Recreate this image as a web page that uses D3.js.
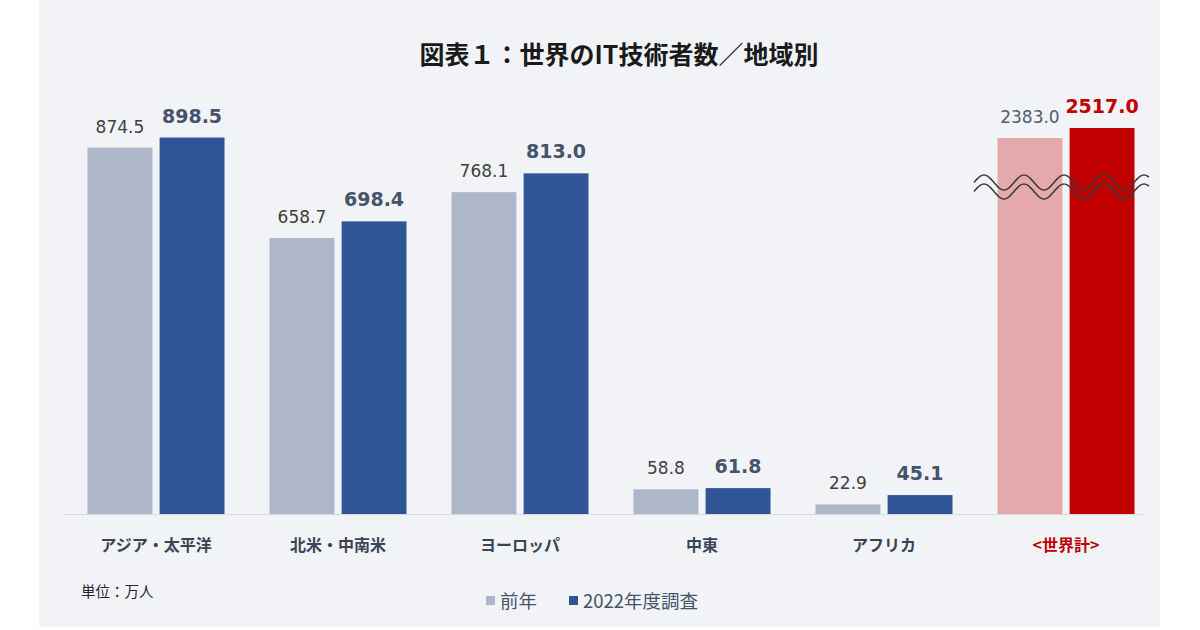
<!DOCTYPE html>
<html>
<head>
<meta charset="utf-8">
<script src="https://cdn.jsdelivr.net/npm/d3@7"></script>
<style>
  body { margin: 0; background: #fff; }
  svg { display: block; }
</style>
</head>
<body>
<svg id="chart"></svg>
<script>
// data
const categories = ['アジア・太平洋', '北米・中南米', 'ヨーロッパ', '中東', 'アフリカ', '<世界計>'];
const prevValues = [874.5, 658.7, 768.1, 58.8, 22.9, 2383.0];
const currValues = [898.5, 698.4, 813.0, 61.8, 45.1, 2517.0];
const seriesNames = ['前年', '2022年度調査'];

const width = 1200;
const height = 630;
const baseY = 514;
const fontNum = '"DejaVu Sans", "Noto Sans CJK JP", sans-serif';
const fontJp = '"Noto Sans CJK JP", sans-serif';

const colors = {
  prev: '#adb7c9', curr: '#2f5597',
  worldPrev: '#e3a9ab', worldCurr: '#c00000'
};

const svg = d3.select('#chart')
  .attr('width', width)
  .attr('height', height);

// panel
svg.append('rect')
  .attr('x', 39).attr('y', 0)
  .attr('width', 1121).attr('height', 627)
  .attr('fill', '#f1f3f7');

const data = categories.map((c, i) => ({
  cat: c, prev: prevValues[i], curr: currValues[i], world: i === categories.length - 1
}));

const x0 = d3.scaleBand()
  .domain(categories)
  .range([65, 1157]);

const x1 = d3.scaleBand()
  .domain(['prev', 'curr'])
  .range([0, 137])
  .paddingInner(0.1);

const yScale = d3.scaleLinear()
  .domain([0, 1000])
  .range([baseY, baseY - 419]);

// broken axis for the world total
const yWorld = d3.scaleLinear()
  .domain([0, 2300, 2600])
  .range([baseY, 144.2, 121.8]);

const yOf = (d, v) => d.world ? yWorld(v) : yScale(v);

// title
svg.append('text')
  .attr('x', 619).attr('y', 64)
  .attr('text-anchor', 'middle')
  .attr('font-family', fontJp)
  .attr('font-weight', 'bold')
  .attr('font-size', 25)
  .attr('fill', '#1a1a1a')
  .text('図表１：世界のIT技術者数／地域別');

// baseline
svg.append('line')
  .attr('x1', 64).attr('x2', 1143)
  .attr('y1', baseY + 0.5).attr('y2', baseY + 0.5)
  .attr('stroke', '#d6d9df')
  .attr('stroke-width', 1.2);

const groups = svg.selectAll('g.grp')
  .data(data)
  .enter()
  .append('g')
  .attr('class', 'grp')
  .attr('transform', d => `translate(${x0(d.cat) + (x0.bandwidth() - 137) / 2}, 0)`);

groups.append('rect')
  .attr('x', x1('prev'))
  .attr('y', d => yOf(d, d.prev))
  .attr('width', x1.bandwidth())
  .attr('height', d => baseY - yOf(d, d.prev))
  .attr('fill', d => d.world ? colors.worldPrev : colors.prev);

groups.append('rect')
  .attr('x', x1('curr'))
  .attr('y', d => yOf(d, d.curr))
  .attr('width', x1.bandwidth())
  .attr('height', d => baseY - yOf(d, d.curr))
  .attr('fill', d => d.world ? colors.worldCurr : colors.curr);

// value labels
groups.append('text')
  .attr('x', x1('prev') + x1.bandwidth() / 2)
  .attr('y', d => yOf(d, d.prev) - 15)
  .attr('text-anchor', 'middle')
  .attr('font-family', fontNum)
  .attr('font-size', 17)
  .attr('fill', d => d.world ? '#4f5b6e' : '#404040')
  .text(d => d.prev.toFixed(1));

groups.append('text')
  .attr('x', x1('curr') + x1.bandwidth() / 2)
  .attr('y', d => yOf(d, d.curr) - 15)
  .attr('text-anchor', 'middle')
  .attr('font-family', fontNum)
  .attr('font-weight', 'bold')
  .attr('font-size', 19)
  .attr('fill', d => d.world ? '#c00000' : '#44546a')
  .text(d => d.curr.toFixed(1));

// category labels
groups.append('text')
  .attr('x', 137 / 2)
  .attr('y', 551)
  .attr('text-anchor', 'middle')
  .attr('font-family', fontJp)
  .attr('font-weight', 'bold')
  .attr('font-size', 16)
  .attr('fill', d => d.world ? '#c00000' : '#3b4356')
  .text(d => d.cat);

// break marks (wavy lines over the world bars)
const waveX = d3.range(974, 1150, 1);
const wave = off => d3.line()
  .x(v => v)
  .y(v => 182.5 + off + 7.5 * Math.sin((v - 974) / 40 * 2 * Math.PI + Math.PI))
  .curve(d3.curveBasis)(waveX);

[0, 9].forEach(off => {
  svg.append('path')
    .attr('d', wave(off))
    .attr('fill', 'none')
    .attr('stroke', '#3a3a3a')
    .attr('stroke-width', 1.5);
});

// unit note
svg.append('text')
  .attr('x', 81).attr('y', 597)
  .attr('font-family', fontJp)
  .attr('font-size', 14.5)
  .attr('fill', '#262626')
  .text('単位：万人');

// legend
const legend = [
  { name: seriesNames[0], color: colors.prev, x: 486 },
  { name: seriesNames[1], color: colors.curr, x: 569 }
];
const lg = svg.selectAll('g.lg')
  .data(legend)
  .enter()
  .append('g')
  .attr('class', 'lg')
  .attr('transform', d => `translate(${d.x}, 601)`);

lg.append('rect')
  .attr('x', 0).attr('y', -5)
  .attr('width', 9).attr('height', 9)
  .attr('fill', d => d.color);

lg.append('text')
  .attr('x', 14).attr('y', 7)
  .attr('font-family', fontJp)
  .attr('font-size', 18.5)
  .attr('fill', '#44546a')
  .text(d => d.name);
</script>
</body>
</html>
